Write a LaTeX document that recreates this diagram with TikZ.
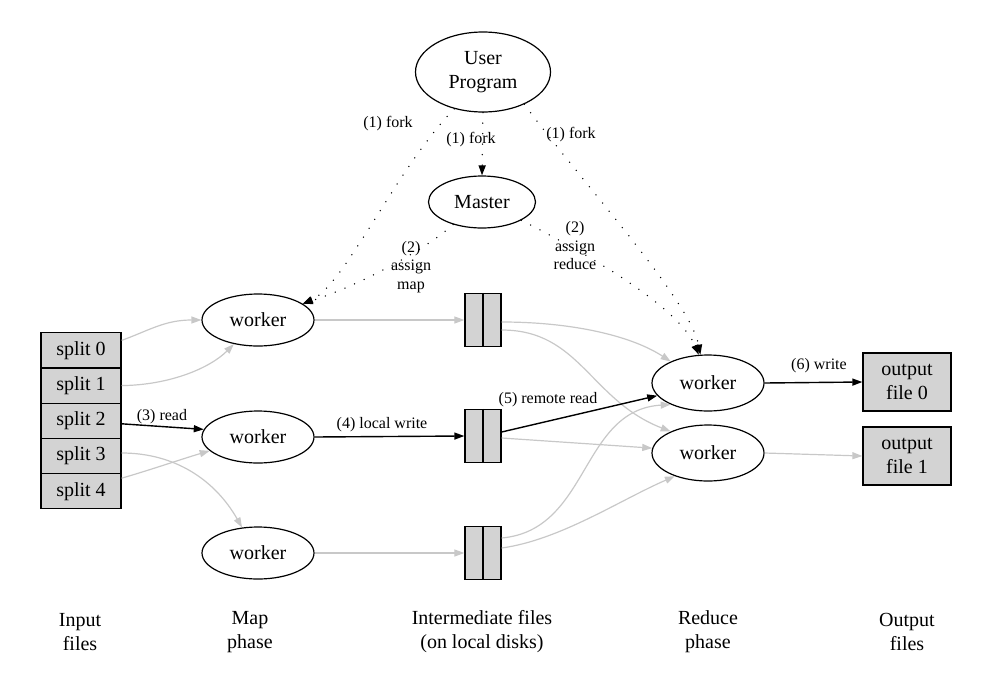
\documentclass[tikz,border=0pt]{standalone}
\usepackage{fontspec}
\setmainfont{Liberation Serif}
\usetikzlibrary{shapes.geometric,arrows.meta}
\definecolor{boxgray}{RGB}{211,211,211}
\definecolor{edgegray}{RGB}{200,200,200}
\begin{document}
\begin{tikzpicture}[x=1pt,y=-1pt,
  mainfont/.style={font=\fontsize{20}{24}\selectfont},
  ell/.style={ellipse, draw, line width=1.2pt, inner sep=0pt, mainfont, align=center},
  splitbox/.style={rectangle, draw, fill=boxgray, line width=1.3pt, minimum width=80pt, minimum height=35.2pt, inner sep=0pt, mainfont},
  ifile/.style={rectangle, draw, fill=boxgray, line width=1.3pt, minimum width=36pt, minimum height=53pt, inner sep=0pt},
  ofile/.style={rectangle, draw, fill=boxgray, line width=1.3pt, minimum width=88pt, minimum height=58pt, inner sep=0pt, mainfont, align=center},
  lbl/.style={font=\fontsize{16}{18.5}\selectfont, align=center, inner sep=0pt},
  arrowtip/.style={-{Triangle[length=10pt,width=7pt]}},
  gedge/.style={draw=edgegray, line width=1.2pt, arrowtip},
  bedge/.style={draw=black, line width=1.4pt, arrowtip},
  dedge/.style={draw=black, line width=1.5pt, line cap=round, dash pattern=on 0pt off 10.5pt, arrowtip},
  capt/.style={mainfont, align=center, inner sep=0pt}
]
\useasboundingbox (0,0) rectangle (994,678);

% nodes
\node[ell, minimum width=135pt, minimum height=80pt] (up) at (483,72) {User\\Program};
\node[ell, minimum width=107pt, minimum height=52pt] (ma) at (482,202) {Master};
\node[ell, minimum width=112pt, minimum height=52pt] (mw1) at (258,320) {worker};
\node[ell, minimum width=112pt, minimum height=52pt] (mw2) at (258,437) {worker};
\node[ell, minimum width=112pt, minimum height=52pt] (mw3) at (258,553) {worker};
\node[ell, minimum width=112pt, minimum height=56pt] (rw1) at (708,383) {worker};
\node[ell, minimum width=112pt, minimum height=56pt] (rw2) at (708,453) {worker};

\node[splitbox] (s0) at (81,350.4) {split 0};
\node[splitbox] (s1) at (81,385.6) {split 1};
\node[splitbox] (s2) at (81,420.8) {split 2};
\node[splitbox] (s3) at (81,456.0) {split 3};
\node[splitbox] (s4) at (81,491.2) {split 4};

\node[ifile] (f1) at (483,320) {};
\node[ifile] (f2) at (483,436) {};
\node[ifile] (f3) at (483,553) {};
\foreach \f in {f1,f2,f3} \draw[line width=1.3pt] (\f.north) -- (\f.south);

\node[ofile] (o0) at (907,382) {output\\file 0};
\node[ofile] (o1) at (907,456) {output\\file 1};

% input -> map
\draw[gedge] ([yshift=10pt]s0.east) .. controls (150,330) and (165,320) .. (mw1.west);
\draw[gedge] (s1.east) .. controls (170,385) and (210,368) .. (mw1.225);
\draw[bedge] ([yshift=-3pt]s2.east) -- (mw2.172);
\draw[gedge] ([yshift=3pt]s3.east) .. controls (175,453) and (215,480) .. (mw3.122);
\draw[gedge] ([yshift=13pt]s4.east) .. controls (150,470) and (185,458) .. (mw2.196);

% map -> intermediate
\draw[gedge] (mw1.east) -- (f1.west);
\draw[bedge] (mw2.east) -- (f2.west);
\draw[gedge] (mw3.east) -- (f3.west);

% intermediate -> reduce
\draw[gedge] ([yshift=-2pt]f1.east) .. controls (570,322) and (630,335) .. (rw1.150);
\draw[gedge] ([yshift=-10pt]f1.east) .. controls (580,330) and (590,400) .. (rw2.150);
\draw[bedge] ([yshift=4pt]f2.east) -- (rw1.194);
\draw[gedge] ([yshift=-2pt]f2.east) -- (rw2.175);
\draw[gedge] ([yshift=15pt]f3.east) .. controls (590,530) and (580,410) .. (rw1.210);
\draw[gedge] ([yshift=5pt]f3.east) .. controls (560,540) and (620,500) .. (rw2.215);

% reduce -> output
\draw[bedge] (rw1.east) -- (o0.west);
\draw[gedge] (rw2.east) -- (o1.west);

% control (dotted)
\draw[dedge] (up.south) -- (ma.north);
\draw[dedge] (up.232) .. controls (395,170) and (345,285) .. (mw1.20);
\draw[dedge] (ma.218) .. controls (425,250) and (360,285) .. (mw1.20);
\draw[dedge] (up.322) .. controls (580,180) and (690,300) .. (rw1.105);
\draw[dedge] (ma.335) .. controls (600,260) and (680,310) .. (rw1.108);

% labels
\node[lbl] (lfL) at (388,124) {(1) fork};
\node[lbl] (lfM) at (471,140) {(1) fork};
\node[lbl] (lfR) at (571,135) {(1) fork};
\node[lbl] (lam) at (411,267) {(2)\\assign\\map};
\node[lbl] (lar) at (575,246) {(2)\\assign\\reduce};
\node[lbl] (lread) at (162,417) {(3) read};
\node[lbl] (lwrite) at (382,425) {(4) local write};
\node[lbl] (lrr) at (548,400) {(5) remote read};
\node[lbl] (lw6) at (819,366) {(6) write};

% captions
\node[capt] (c1) at (80,632) {Input\\files};
\node[capt] (c2) at (250,632) {Map\\phase};
\node[capt] (c3) at (482,632) {Intermediate files\\(on local disks)};
\node[capt] (c4) at (708,632) {Reduce\\phase};
\node[capt] (c5) at (907,632) {Output\\files};
\end{tikzpicture}
\end{document}
